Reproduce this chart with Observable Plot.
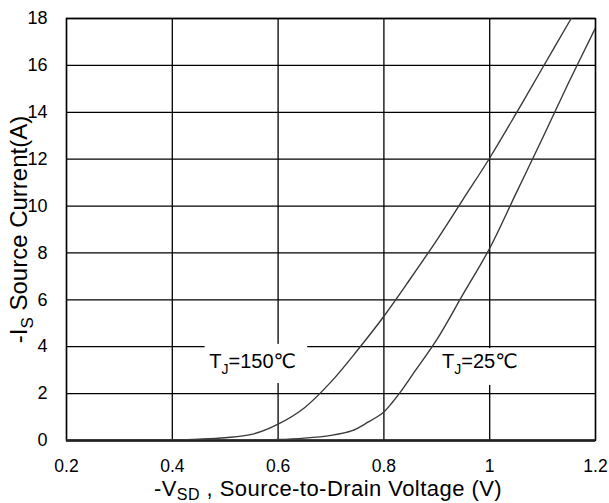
<!DOCTYPE html>
<html><head><meta charset="utf-8">
<script src="https://cdn.jsdelivr.net/npm/d3@7"></script>
<script src="https://cdn.jsdelivr.net/npm/@observablehq/plot@0.6"></script>
<style>body{margin:0;background:#fff}</style>
</head><body><div id="chart"></div>
<script>
// T_J = 150 °C curve: -V_SD (V) vs -I_S (A)
const vHot = [0.20, 0.30, 0.40, 0.45, 0.50, 0.55, 0.60, 0.65, 0.70, 0.75, 0.80, 0.85, 0.90, 0.95, 1.00, 1.05, 1.10, 1.154];
const iHot = [0.00, 0.01, 0.03, 0.06, 0.12, 0.26, 0.70, 1.40, 2.50, 3.85, 5.30, 6.90, 8.55, 10.3, 12.05, 13.95, 15.9, 18.0];
// T_J = 25 °C curve
const vCold = [0.20, 0.50, 0.60, 0.65, 0.70, 0.74, 0.77, 0.785, 0.80, 0.815, 0.83, 0.86, 0.90, 0.95, 1.00, 1.05, 1.10, 1.15, 1.20];
const iCold = [0.00, 0.01, 0.04, 0.10, 0.22, 0.42, 0.78, 0.98, 1.22, 1.60, 2.03, 3.00, 4.30, 6.25, 8.20, 10.55, 12.9, 15.3, 17.6];

const xTicks = [0.2, 0.4, 0.6, 0.8, 1, 1.2];
const yTicks = [0, 2, 4, 6, 8, 10, 12, 14, 16, 18];

const labelNames = ["150℃", "25℃"];
const labelX = [0.470, 0.910];
const labelY = [3.37, 3.35];
const boxX1 = [0.462, 0.902];
const boxX2 = [0.656, 1.060];
const boxY1 = [2.43, 2.35];
const boxY2 = [4.10, 3.92];

const xTitle = "-VSD , Source-to-Drain Voltage (V)";
const yTitle = "-IS Source Current(A)";

const hot = vHot.map((v, k) => ({v, i: iHot[k]}));
const cold = vCold.map((v, k) => ({v, i: iCold[k]}));
const labels = labelNames.map((t, k) => ({t: "TJ=" + t, x: labelX[k], y: labelY[k], x1: boxX1[k], x2: boxX2[k], y1: boxY1[k], y2: boxY2[k]}));

const font = "'Liberation Sans', Arial, 'DejaVu Sans', sans-serif";
const chart = Plot.plot({
  width: 609, height: 503,
  marginLeft: 66, marginRight: 14, marginTop: 18, marginBottom: 63,
  style: {fontFamily: font, fontSize: "18px", color: "#000", background: "#fff", overflow: "visible"},
  x: {domain: [0.2, 1.2]},
  y: {domain: [0, 18]},
  marks: [
    Plot.gridX(xTicks, {stroke: "#000", strokeOpacity: 1, strokeWidth: 1.3}),
    Plot.gridY(yTicks, {stroke: "#000", strokeOpacity: 1, strokeWidth: 1.3}),
    Plot.rect(labels, {x1: "x1", x2: "x2", y1: "y1", y2: "y2", fill: "#fff"}),
    Plot.frame({stroke: "#000", strokeWidth: 1.4}),
    Plot.ruleY([0], {stroke: "#222", strokeWidth: 2.4}),
    Plot.line(hot, {x: "v", y: "i", curve: "catmull-rom", stroke: "#3a3a3a", strokeWidth: 1.4, clip: true}),
    Plot.line(cold, {x: "v", y: "i", curve: "catmull-rom", stroke: "#3a3a3a", strokeWidth: 1.4, clip: true}),
    Plot.axisX({ticks: xTicks, tickSize: 0, tickPadding: 19, tickFormat: d => String(d), label: null, fontSize: 17.5}),
    Plot.axisY({ticks: yTicks, tickSize: 0, tickPadding: 19, label: null, fontSize: 18}),
    Plot.text(labels, {x: "x", y: "y", text: "t", textAnchor: "start", lineAnchor: "middle", fontSize: 20, fill: "#000"}),
    Plot.text([xTitle], {frameAnchor: "bottom", text: d => d, textAnchor: "middle", lineAnchor: "middle", dy: 48.5, dx: -3, fontSize: 22, fill: "#000"}),
    Plot.text([yTitle], {frameAnchor: "left", text: d => d, textAnchor: "middle", lineAnchor: "middle", rotate: -90, dx: -47, fontSize: 24, fill: "#000"})
  ]
});
document.getElementById("chart").appendChild(chart);

// subscripts
const subs = {
  "TJ=150℃": ["T", "J", "=150℃", 20, 0.28, 0],
  "TJ=25℃": ["T", "J", "=25℃", 20, 0.28, 0],
  [xTitle]: ["-V", "SD", " , Source-to-Drain Voltage (V)", 22, 0.16, 0.45],
  [yTitle]: ["-I", "S", " Source Current(A)", 24, 0.25, 0]
};
d3.select(chart).selectAll("text").each(function() {
  const s = subs[this.textContent];
  if (!s) return;
  const sh = Math.round(s[3] * s[4]);
  const el = d3.select(this);
  el.text(null);
  if (s[5]) el.attr("letter-spacing", s[5]);
  el.append("tspan").text(s[0]);
  el.append("tspan").attr("dy", sh).attr("font-size", Math.round(s[3] * 0.72)).text(s[1]);
  el.append("tspan").attr("dy", -sh).text(s[2]);
});
</script>
</body></html>
